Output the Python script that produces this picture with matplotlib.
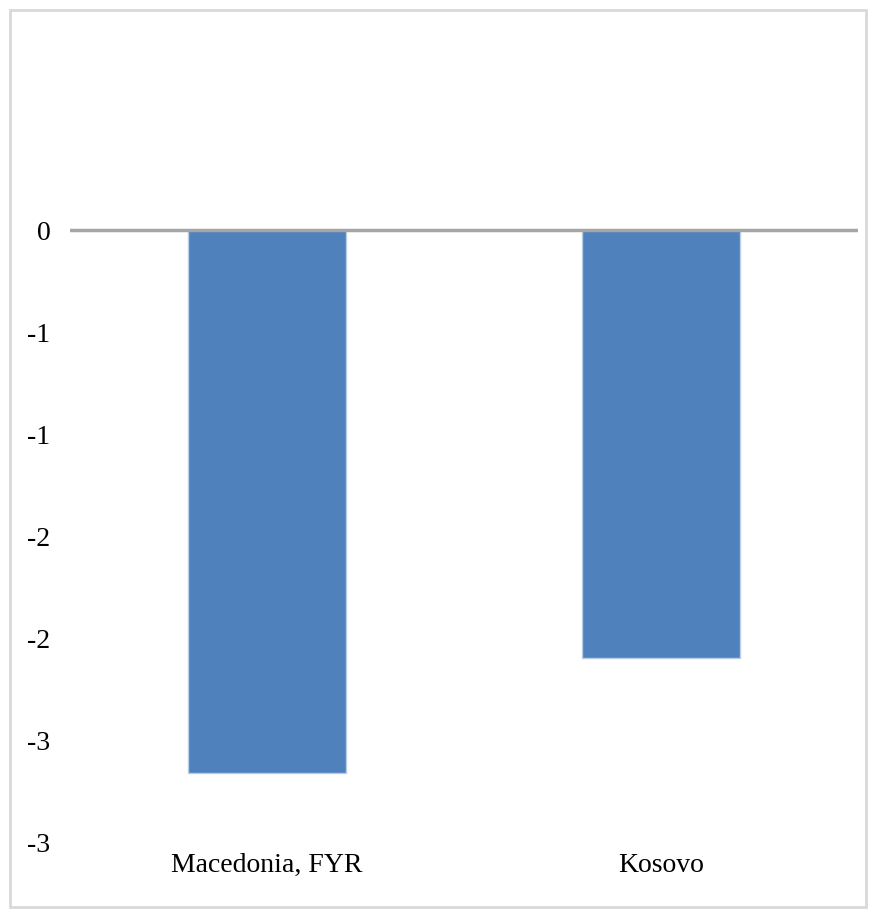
import matplotlib
matplotlib.use("Agg")
import matplotlib.pyplot as plt
from matplotlib.patches import Rectangle

# valores do gráfico
paises = ["Macedonia, FYR", "Kosovo"]
valores = [-2.66, -2.10]
ticks_y = [0, -0.5, -1.0, -1.5, -2.0, -2.5, -3.0]
rotulos_y = ["0", "-1", "-1", "-2", "-2", "-3", "-3"]

W, H = 869, 910
fig = plt.figure(figsize=(W / 100, H / 100), dpi=100)
fig.patch.set_facecolor("white")

# moldura cinza em volta da figura
fig.patches.append(Rectangle((10 / W, 3 / H), 856 / W, 897 / H, transform=fig.transFigure,
                             fill=False, edgecolor="#D9D9D9", linewidth=2))

ax = fig.add_axes([70 / W, 68 / H, 788 / W, 816 / H])
x = range(len(paises))
ax.bar(x, valores, width=0.40, color="#4F81BD", edgecolor="#B9CDE5", linewidth=1, zorder=2)
ax.axhline(0, color="#A6A6A6", linewidth=2.5, zorder=3)

ax.set_xlim(-0.5, len(paises) - 0.5)
ax.set_ylim(-3.0, 1.0)
for s in ax.spines.values():
    s.set_visible(False)

ax.set_yticks(ticks_y)
ax.set_yticklabels(rotulos_y)
ax.set_xticks(list(x))
ax.set_xticklabels(paises)
ax.tick_params(axis="y", length=0, pad=14)
ax.tick_params(axis="x", length=0, pad=8)
for lbl in ax.get_yticklabels() + ax.get_xticklabels():
    lbl.set_fontfamily("Liberation Serif")
    lbl.set_fontsize(20)
    lbl.set_color("black")

fig.savefig("out.png", dpi=100)
